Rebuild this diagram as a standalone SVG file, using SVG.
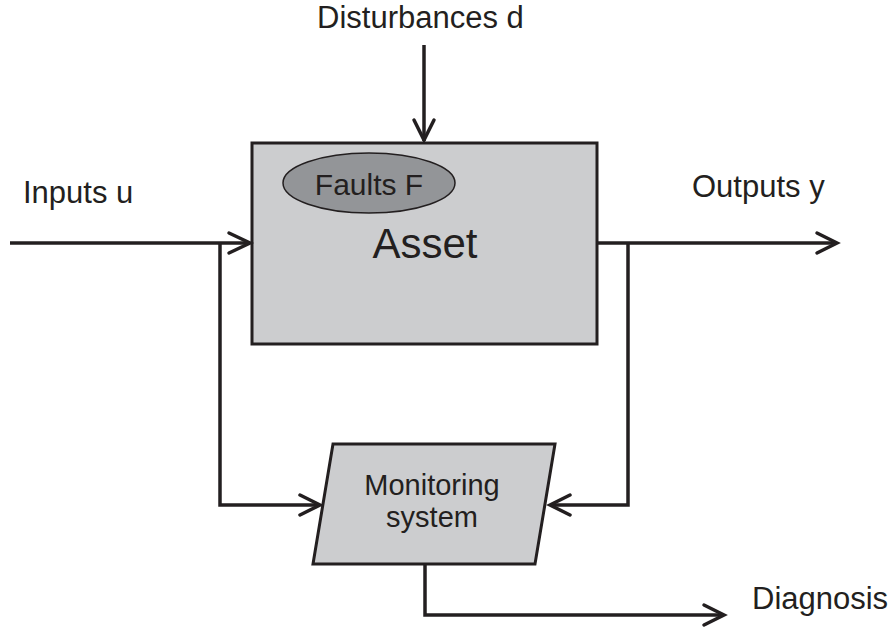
<svg xmlns="http://www.w3.org/2000/svg" width="893" height="630" viewBox="0 0 893 630">
<style>
  text { font-family: "Liberation Sans", Arial, sans-serif; fill: #231f20; }
  .lbl { font-size: 31px; }
  .line { fill: none; stroke: #231f20; stroke-width: 3.5; stroke-linejoin: miter; }
  .head { fill: none; stroke: #231f20; stroke-width: 3.5; stroke-linecap: round; stroke-linejoin: miter; }
  .box { fill: #cccdcf; stroke: #231f20; stroke-width: 3; }
</style>
<rect width="893" height="630" fill="#ffffff"/>
<g id="asset">
  <rect class="box" x="252" y="143" width="345" height="201"/>
  <ellipse cx="369" cy="183" rx="86" ry="30" fill="#939598" stroke="#231f20" stroke-width="1.5"/>
  <text x="369" y="195" font-size="30" text-anchor="middle">Faults F</text>
  <text x="425" y="258" font-size="42" text-anchor="middle">Asset</text>
</g>
<g id="monitoring">
  <polygon class="box" points="333,444 555,444 535,564 313,564"/>
  <text x="432" y="495" font-size="29" text-anchor="middle">Monitoring</text>
  <text x="432" y="527" font-size="29" text-anchor="middle">system</text>
</g>
<g id="labels">
  <text class="lbl" x="317" y="28">Disturbances d</text>
  <text class="lbl" x="23" y="203">Inputs u</text>
  <text class="lbl" x="692" y="197">Outputs y</text>
  <text class="lbl" x="752" y="609">Diagnosis</text>
</g>
<g id="connectors">
  <path class="line" d="M424,45 V141"/>
  <path class="head" d="M414,120 L424,140 L434,120"/>
  <path class="line" d="M10,243 H250"/>
  <path class="head" d="M229,233 L250,243 L229,253"/>
  <path class="line" d="M220,243 V505 H320"/>
  <path class="head" d="M300,495 L320,505 L300,515"/>
  <path class="line" d="M597,243 H836"/>
  <path class="head" d="M817,233 L837,243 L817,253"/>
  <path class="line" d="M628,243 V505 H550"/>
  <path class="head" d="M570,495 L550,505 L570,515"/>
  <path class="line" d="M425,564 V615 H723"/>
  <path class="head" d="M704,605 L724,615 L704,625"/>
</g>
</svg>
